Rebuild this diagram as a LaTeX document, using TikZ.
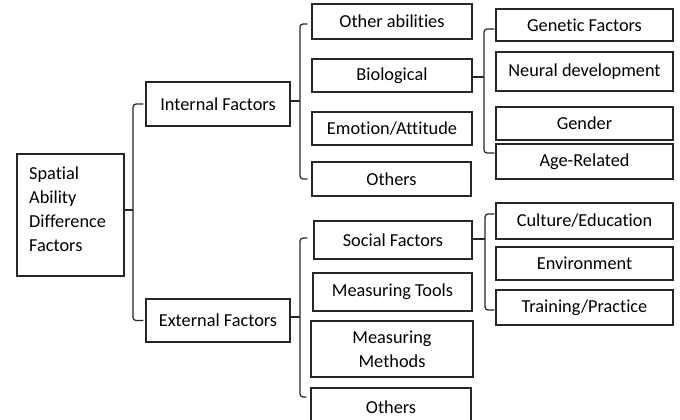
\documentclass[tikz,border=0pt]{standalone}
\usepackage{fontspec}
\setmainfont{Carlito}[Ligatures={NoCommon,NoRequired}]
\begin{document}
\begin{tikzpicture}[x=1pt,y=-1pt,
  box/.style={draw=black!85,line width=1.3pt,inner sep=0pt,align=center,
    font=\fontsize{18.3}{24}\selectfont,text=black},
  br/.style={draw=black!85,line width=1.2pt,rounded corners=3pt},
  conn/.style={draw=black!85,line width=1.2pt}]
\useasboundingbox (0,0) rectangle (680,420);
\clip (0,0) rectangle (680,420);
% root
\node[box,minimum width=107pt,minimum height=122pt] (root) at (70.5,215) {};
\node[anchor=west,align=left,inner sep=0pt,font=\fontsize{18.3}{24}\selectfont,text=black] (roottxt) at (29,209) {Spatial\\Ability\\Difference\\Factors};
% level 1
\node[box,minimum width=144pt,minimum height=44pt] (int) at (218,104) {Internal Factors};
\node[box,minimum width=144pt,minimum height=43pt] (ext) at (218,320.5) {External Factors};
% internal level 2
\node[box,minimum width=160pt,minimum height=35pt] (oab) at (392,21.5) {Other abilities};
\node[box,minimum width=160pt,minimum height=33pt] (bio) at (392,75.5) {Biological};
\node[box,minimum width=160pt,minimum height=33pt] (emo) at (392,128.5) {Emotion/Attitude};
\node[box,minimum width=159pt,minimum height=34pt] (oth1) at (391.5,179) {Others};
% biological level 3
\node[box,minimum width=177pt,minimum height=32pt,text depth=-1pt] (gen) at (584.5,25) {Genetic Factors};
\node[box,minimum width=177pt,minimum height=39pt] (neu) at (584.5,71.5) {Neural development};
\node[box,minimum width=177pt,minimum height=33pt] (gnd) at (584.5,123.5) {Gender};
\node[box,minimum width=177pt,minimum height=35pt] (age) at (584.5,161.5) {Age-Related};
% external level 2
\node[box,minimum width=158pt,minimum height=38pt] (soc) at (393,240) {Social Factors};
\node[box,minimum width=159pt,minimum height=38pt] (mto) at (392.5,292) {Measuring Tools};
\node[box,minimum width=162pt,minimum height=56pt] (mme) at (392,349) {Measuring\\Methods};
\node[box,minimum width=160pt,minimum height=38pt] (oth2) at (391,407) {Others};
% social level 3
\node[box,minimum width=177pt,minimum height=36pt] (cul) at (584.5,221) {Culture/Education};
\node[box,minimum width=177pt,minimum height=33pt] (env) at (584.5,263.5) {Environment};
\node[box,minimum width=177pt,minimum height=35pt] (tra) at (584.5,307.5) {Training/Practice};
% brackets
\coordinate (b0) at (133,210);
\draw[conn] (root.east |- b0) -- (b0);
\draw[br] ([xshift=-2pt]int.west) -| (b0) |- ([xshift=-2pt]ext.west);
\coordinate (b1) at (300,101);
\draw[conn] (int.east |- b1) -- (b1);
\draw[br] ([xshift=-4pt,yshift=-2.5pt]oab.west) -| (b1) |- ([xshift=-4pt]oth1.west);
\coordinate (b2) at (484,77);
\draw[conn] (bio.east |- b2) -- (b2);
\draw[br] ([xshift=-1pt,yshift=-4pt]gen.west) -| (b2) |- ([xshift=-1pt,yshift=8.5pt]age.west);
\coordinate (b3) at (300,317);
\draw[conn] (ext.east |- b3) -- (b3);
\draw[br] ([xshift=-6pt,yshift=2pt]soc.west) -| (b3) |- ([xshift=-4pt,yshift=10pt]oth2.west);
\coordinate (b4) at (485,239);
\draw[conn] (soc.east |- b4) -- (b4);
\draw[br] ([xshift=-1pt,yshift=7pt]cul.west) -| (b4) |- ([xshift=-1pt,yshift=-2.5pt]tra.west);
\end{tikzpicture}
\end{document}
